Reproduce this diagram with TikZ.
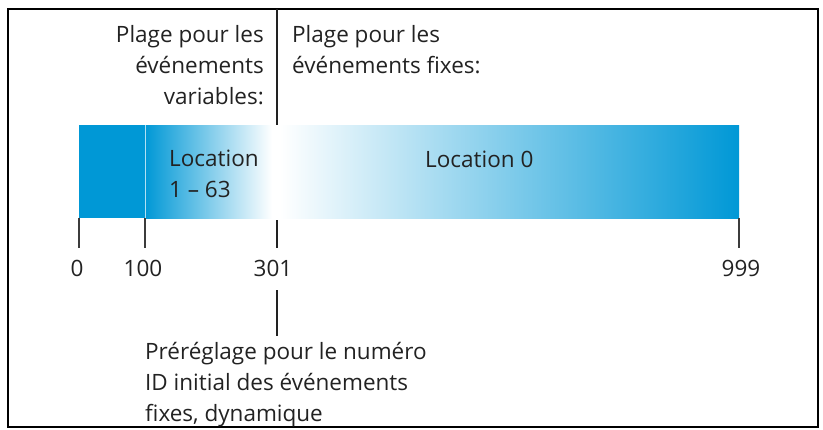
\documentclass[tikz,border=0pt]{standalone}
\usepackage{fontspec}
\setmainfont{Open Sans}
\definecolor{barblue}{RGB}{0,152,214}
\definecolor{txt}{RGB}{34,34,34}
\definecolor{linegray}{RGB}{60,60,60}
\begin{document}
\begin{tikzpicture}[x=1pt,y=-1pt,
  lbl/.style={inner sep=0pt,text=txt,font=\fontsize{22.5}{31}\selectfont},
  tick/.style={draw=linegray,line width=1.3pt},
  mark301/.style={draw=txt,line width=2.2pt},
  frame/.style={draw=black,line width=1.8pt}]
\useasboundingbox (0,0) rectangle (823,429);
\draw[frame] (8,9) rectangle (818,427);
% bar
\fill[barblue] (79,125) rectangle (145,218);
\shade[left color=barblue,right color=white] (145,125) rectangle (272,218);
\shade[left color=white,right color=barblue] (280,125) rectangle (739,218);
\fill[white] (272,125) rectangle (280,218);
\draw[white!70!barblue,line width=0.8pt] (145,125) -- (145,218);
% coordinates
\coordinate (b0) at (79,218);   \coordinate (t0) at (79,248);
\coordinate (b1) at (145,218);  \coordinate (t1) at (145,248);
\coordinate (b3) at (277,220);  \coordinate (t3) at (277,248);
\coordinate (b9) at (739,218);  \coordinate (t9) at (739,248);
\coordinate (top) at (277,9);   \coordinate (bartop) at (277,125);
\coordinate (l1) at (277,290);  \coordinate (l2) at (277,336);
\draw[tick] (b0) -- (t0);
\draw[tick] (b1) -- (t1);
\draw[mark301] (b3) -- (t3);
\draw[tick] (b9) -- (t9);
\draw[mark301,line width=2pt] (top) -- (bartop);
\draw[mark301] (l1) -- (l2);
% labels
\node[lbl,anchor=base] (n0) at (77,276) {0};
\node[lbl,anchor=base] (n100) at (143,276) {100};
\node[lbl,anchor=base] (n301) at (273,276) {301};
\node[lbl,anchor=base] (n999) at (741,276) {999};
\node[lbl,anchor=base west,align=left] (loc1) at (169,197) {Location\\1 -- 63};
\node[lbl,anchor=base west] (loc0) at (425,167) {Location 0};
\node[lbl,anchor=base east,align=right] (var) at (264,104) {Plage pour les\\événements\\variables:};
\node[lbl,anchor=base west,align=left] (fix) at (292,73) {Plage pour les\\événements fixes:};
\node[lbl,anchor=base west,align=left] (pre) at (145,421) {Préréglage pour le numéro\\ID initial des événements\\fixes, dynamique};
\end{tikzpicture}
\end{document}
